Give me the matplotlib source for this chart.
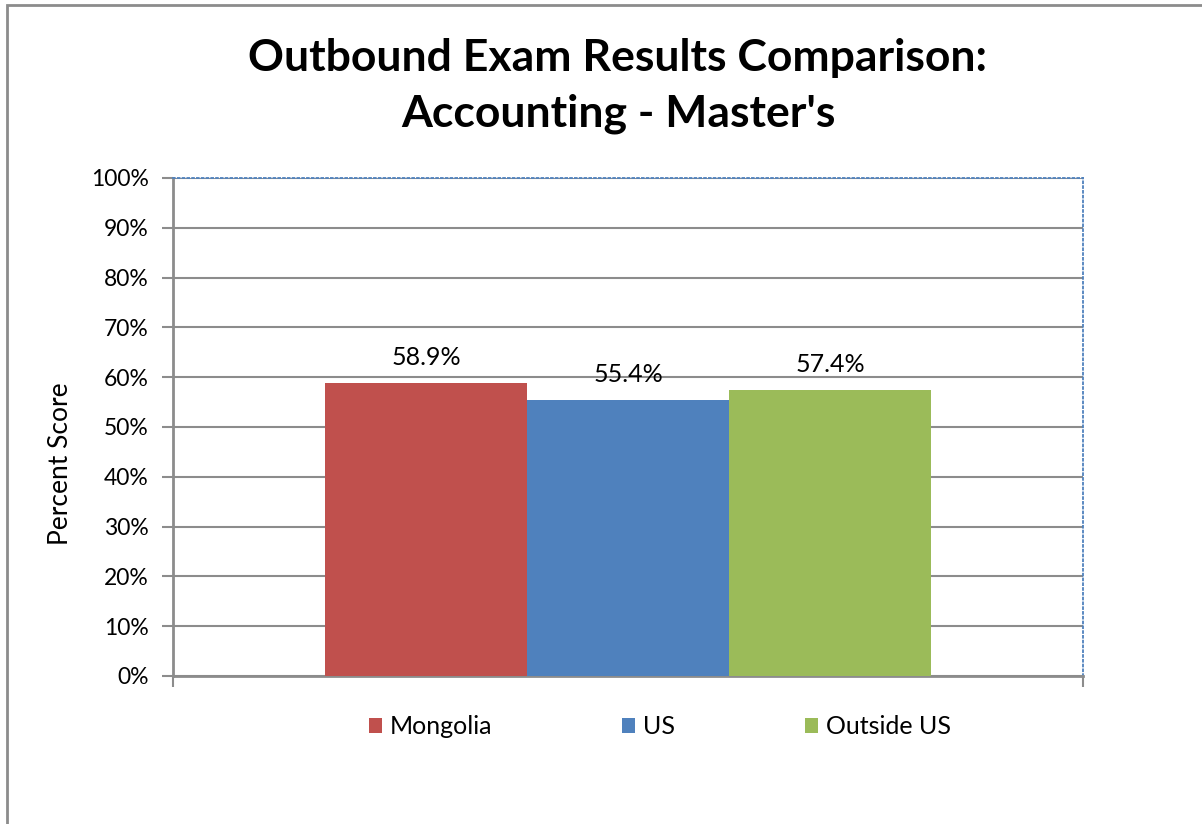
import matplotlib.pyplot as plt
from matplotlib.patches import Rectangle

# Data
series = ["Mongolia", "US", "Outside US"]
scores = [58.9, 55.4, 57.4]
colors = ["#C0504D", "#4F81BD", "#9BBB59"]
yticks = [0, 10, 20, 30, 40, 50, 60, 70, 80, 90, 100]

plt.rcParams["font.family"] = ["Lato", "DejaVu Sans"]

fig = plt.figure(figsize=(12.02, 8.24), dpi=100)
ax = fig.add_axes([173 / 1202, 1 - 676 / 824, 910 / 1202, 498 / 824])

# outer chart frame (only left/top edges visible in the reference)
fig.patches.append(Rectangle((7 / 1202, -0.1), 1.2, 1 - 5 / 824 + 0.1,
                             transform=fig.transFigure, fill=False,
                             edgecolor="#8c8c8c", linewidth=2))

positions = [-1, 0, 1]
bars = ax.bar(positions, scores, width=1.0, color=colors, label=series, zorder=3)

for bar, val in zip(bars, scores):
    ax.annotate(f"{val:.1f}%",
                xy=(bar.get_x() + bar.get_width() / 2, bar.get_height()),
                xytext=(0, 10), textcoords="offset points",
                ha="center", va="bottom", fontsize=18)

ax.set_xlim(-2.2525, 2.2525)
ax.set_ylim(0, 100)
ax.set_yticks(yticks)
ax.set_yticklabels([f"{t}%" for t in yticks], fontsize=16.5)
ax.set_xticks([-2.2525, 2.2525])
ax.set_xticklabels(["", ""])
ax.tick_params(axis="both", color="#8c8c8c", width=1.5, length=8, pad=9.5)

ax.grid(axis="y", color="#8c8c8c", linewidth=1.5, zorder=0)
ax.set_axisbelow(True)

for side in ["left", "bottom"]:
    ax.spines[side].set_color("#8c8c8c")
    ax.spines[side].set_linewidth(2)
for side in ["top", "right"]:
    ax.spines[side].set_color("#4F81BD")
    ax.spines[side].set_linestyle(":")
    ax.spines[side].set_linewidth(1.3)

ax.set_ylabel("Percent Score", fontsize=19)
ax.yaxis.set_label_coords(-0.11, 0.426)

fig.text(618 / 1202, 1 - 86 / 824,
         "Outbound Exam Results Comparison:\nAccounting - Master's",
         ha="center", va="center", fontsize=32, fontweight="bold",
         linespacing=1.45)

ax.legend(loc="center", bbox_to_anchor=(660 / 1202, 1 - 727 / 824),
          bbox_transform=fig.transFigure,
          ncol=3, frameon=False, fontsize=18, handlelength=0.52, handleheight=0.52,
          handletextpad=0.32, columnspacing=5.2)

fig.savefig("out.png", dpi=100)
